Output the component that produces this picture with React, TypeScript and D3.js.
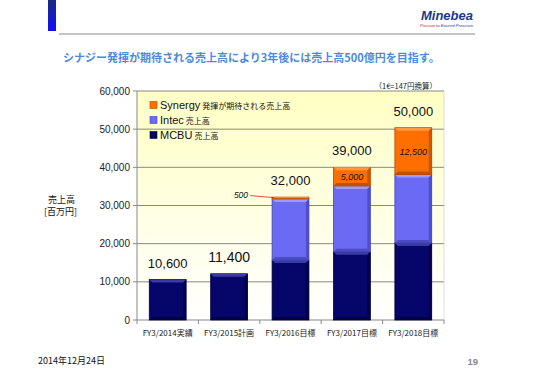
import React from "react";
import * as d3 from "d3";

const categories = ["FY3/2014実績", "FY3/2015計画", "FY3/2016目標", "FY3/2017目標", "FY3/2018目標"];
const mcbu = [10600, 12100, 15700, 17900, 20200];
const intec = [0, 0, 16000, 17200, 17900];
const synergy = [0, 0, 500, 4900, 12300];
const totalLabels = ["10,600", "11,400", "32,000", "39,000", "50,000"];
const synergyLabels = ["", "", "500", "5,000", "12,500"];
const yTicks = [0, 10000, 20000, 30000, 40000, 50000, 60000];
const seriesNames = ["Synergy", "Intec", "MCBU"];
const seriesSub = ["発揮が期待される売上高", "売上高", "売上高"];

const colors = { mcbu: "#05056a", intec: "#6a6af4", synergy: "#ff6e00" };
const darker = { mcbu: "#000040", intec: "#4444b8", synergy: "#b84800" };
const lighter = { mcbu: "#3a3aa0", intec: "#9a9aff", synergy: "#ff9a40" };

const JP = "'Noto Sans CJK JP', sans-serif";
const NUM = "'Liberation Sans', Arial, sans-serif";

export default function App() {
  const W = 539, H = 380;
  const left = 137, right = 444, top = 91, bottom = 320;
  const x = d3.scaleBand<string>().domain(categories).range([left, right]).paddingInner(0.4).paddingOuter(0.2);
  const y = d3.scaleLinear().domain([0, 60000]).range([bottom, top]);
  const bw = x.bandwidth();

  const seg = (key: "mcbu" | "intec" | "synergy", x0: number, v0: number, v1: number, k: string) => {
    if (v1 <= v0) return null;
    const y0 = y(v0), y1 = y(v1);
    const h = y0 - y1;
    const b = Math.min(3, h / 3);
    return (
      <g key={k}>
        <rect x={x0} y={y1} width={bw} height={h} fill={colors[key]} stroke={darker[key]} strokeWidth={0.8} />
        <polygon points={`${x0},${y1} ${x0 + bw},${y1} ${x0 + bw - b},${y1 + b} ${x0 + b},${y1 + b}`} fill={lighter[key]} />
        <polygon points={`${x0 + bw},${y1} ${x0 + bw},${y0} ${x0 + bw - b},${y0 - b} ${x0 + bw - b},${y1 + b}`} fill={darker[key]} opacity={0.7} />
        <polygon points={`${x0},${y0} ${x0 + bw},${y0} ${x0 + bw - b},${y0 - b} ${x0 + b},${y0 - b}`} fill={darker[key]} opacity={0.8} />
      </g>
    );
  };

  return (
    <svg width={W} height={H} style={{ position: "absolute", left: 0, top: 0, background: "#fff" }}>
      <defs>
        <linearGradient id="bg" x1="0" y1="0" x2="0" y2="1">
          <stop offset="0" stopColor="#ffffc4" />
          <stop offset="1" stopColor="#ffffff" />
        </linearGradient>
        <linearGradient id="tab" x1="0" y1="0" x2="0" y2="1">
          <stop offset="0" stopColor="#1a2a80" />
          <stop offset="1" stopColor="#1010ff" />
        </linearGradient>
      </defs>
      {/* header */}
      <rect x={48} y={0} width={8} height={31} fill="url(#tab)" />
      <line x1={59} x2={475} y1={34} y2={34} stroke="#888" strokeWidth={1} />
      <text x={473} y={20} textAnchor="end" fontFamily={NUM} fontWeight="bold" fontStyle="italic" fontSize={13} fill="#1a3a8a">Minebea</text>
      <text x={473} y={26.5} textAnchor="end" fontFamily={NUM} fontStyle="italic" fontSize={4.2} fill="#1a3a8a">
        <tspan fill="#c02020">Passion</tspan> to Exceed Precision
      </text>
      <text x={63} y={62} fontFamily={JP} fontWeight="bold" fontSize={11} fill="#4a8ae0">シナジー発揮が期待される売上高により3年後には売上高500億円を目指す。</text>

      {/* plot background */}
      <rect x={left} y={top} width={right - left} height={bottom - top} fill="url(#bg)" />
      {yTicks.map((t) => (
        <line key={t} x1={left} x2={right} y1={y(t)} y2={y(t)} stroke="#888" strokeWidth={1} />
      ))}
      <line x1={left} x2={left} y1={top} y2={bottom} stroke="#888" />
      <line x1={right} x2={right} y1={top} y2={bottom} stroke="#bbb" strokeWidth={0.5} />
      {yTicks.map((t) => (
        <g key={"yt" + t}>
          <line x1={left - 4} x2={left} y1={y(t)} y2={y(t)} stroke="#888" />
          <text x={left - 7} y={y(t) + 3.5} textAnchor="end" fontFamily={NUM} fontSize={10} fill="#222">{d3.format(",")(t)}</text>
        </g>
      ))}
      {/* x ticks */}
      {d3.range(categories.length + 1).map((i) => {
        const xx = left + ((right - left) / categories.length) * i;
        return <line key={"xt" + i} x1={xx} x2={xx} y1={bottom} y2={bottom + 4} stroke="#888" />;
      })}
      {categories.map((c) => (
        <text key={"xl" + c} x={(x(c) as number) + bw / 2} y={bottom + 16} textAnchor="middle" fontFamily={JP} fontSize={8} fill="#222">{c}</text>
      ))}

      {/* bars */}
      {categories.map((c, i) => {
        const x0 = x(c) as number;
        return (
          <g key={"b" + c}>
            {seg("mcbu", x0, 0, mcbu[i], "m")}
            {seg("intec", x0, mcbu[i], mcbu[i] + intec[i], "i")}
            {seg("synergy", x0, mcbu[i] + intec[i], mcbu[i] + intec[i] + synergy[i], "s")}
          </g>
        );
      })}
      {/* total labels */}
      {categories.map((c, i) => {
        const tot = mcbu[i] + intec[i] + synergy[i];
        return (
          <text key={"tl" + c} x={(x(c) as number) + bw / 2} y={y(tot) - 12} textAnchor="middle" fontFamily={NUM} fontSize={i === 1 ? 14 : 13} fill="#111">{totalLabels[i]}</text>
        );
      })}
      {/* synergy labels */}
      {categories.map((c, i) => {
        if (!synergyLabels[i]) return null;
        const x0 = x(c) as number;
        const v0 = mcbu[i] + intec[i];
        const v1 = v0 + synergy[i];
        if (synergy[i] < 2000) {
          return (
            <g key={"sl" + c}>
              <line x1={x0 - 22} y1={y(v1) - 1.5} x2={x0 + 2} y2={y(v1) + 0.5} stroke="#e02020" strokeWidth={0.8} />
              <text x={x0 - 24} y={y(v1) + 1} textAnchor="end" fontFamily={NUM} fontStyle="italic" fontSize={8.5} fill="#111">{synergyLabels[i]}</text>
            </g>
          );
        }
        return (
          <text key={"sl" + c} x={x0 + bw / 2} y={(y(v0) + y(v1)) / 2 + 3.5} textAnchor="middle" fontFamily={NUM} fontStyle="italic" fontSize={9} fill="#111">{synergyLabels[i]}</text>
        );
      })}

      {/* legend */}
      {seriesNames.map((n, i) => {
        const key = (["synergy", "intec", "mcbu"] as const)[i];
        const ly = 105 + i * 15;
        return (
          <g key={"lg" + n}>
            <rect x={150} y={ly - 3.5} width={7} height={7} fill={colors[key]} stroke={darker[key]} strokeWidth={0.6} />
            <text x={160} y={ly + 4} fontFamily={NUM} fontSize={11} fill="#111">
              {n}
              <tspan fontFamily={JP} fontSize={8} dx={2}>{seriesSub[i]}</tspan>
            </text>
          </g>
        );
      })}
      <text x={437} y={89} textAnchor="end" fontFamily={JP} fontSize={7.5} fill="#222">（1€=147円換算）</text>

      {/* y-axis title */}
      <text x={48} y={203} fontFamily={JP} fontSize={9} fill="#111">売上高</text>
      <text x={44} y={215} fontFamily={JP} fontSize={9} fill="#111">[百万円]</text>

      {/* footer */}
      <text x={38} y={364} fontFamily={JP} fontSize={9} fill="#111">2014年12月24日</text>
      <text x={478} y={365} textAnchor="end" fontFamily={NUM} fontWeight="bold" fontSize={9.5} fill="#888">19</text>
    </svg>
  );
}
